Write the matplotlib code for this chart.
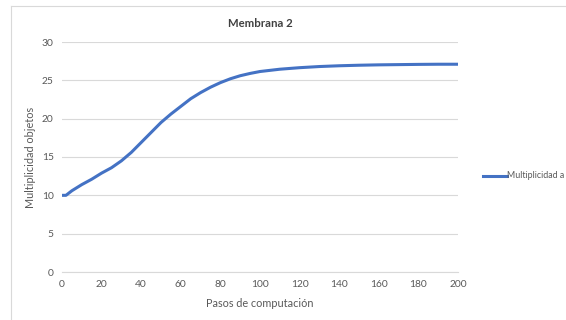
import matplotlib
matplotlib.use("Agg")
import matplotlib.pyplot as plt
from matplotlib.lines import Line2D

# ------------------------------
# Data
# ------------------------------
pasos = [0, 2, 5, 10, 15, 20, 25, 30, 35, 40, 45, 50, 55, 60, 65, 70, 75,
         80, 85, 90, 95, 100, 110, 120, 130, 140, 150, 160, 170, 180, 190, 200]
multiplicidad = [10.0, 10.0, 10.6, 11.4, 12.1, 12.9, 13.6, 14.5, 15.6, 16.9,
                 18.2, 19.5, 20.6, 21.6, 22.6, 23.4, 24.1, 24.7, 25.2, 25.6,
                 25.9, 26.15, 26.45, 26.65, 26.8, 26.9, 26.97, 27.02, 27.05,
                 27.08, 27.1, 27.1]
x_ticks = [0, 20, 40, 60, 80, 100, 120, 140, 160, 180, 200]
y_ticks = [0, 5, 10, 15, 20, 25, 30]

plt.rcParams['font.family'] = ['Lato', 'DejaVu Sans']

fig = plt.figure(figsize=(5.66, 3.2), dpi=100)
ax = fig.add_axes([62 / 566, 48 / 320, 396 / 566, 230 / 320])

ax.plot(pasos, multiplicidad, color='#4472C4', linewidth=2.2,
        solid_capstyle='round', solid_joinstyle='round')

ax.set_xlim(0, 200)
ax.set_ylim(0, 30)
ax.set_xticks(x_ticks)
ax.set_yticks(y_ticks)
ax.grid(axis='y', color='#D9D9D9', linewidth=0.8)
ax.set_axisbelow(True)
for side in ['top', 'right', 'left']:
    ax.spines[side].set_visible(False)
ax.spines['bottom'].set_color('#D9D9D9')
ax.tick_params(length=0, labelsize=7.4, labelcolor='#595959', pad=6)

ax.set_title("Membrana 2", fontsize=8.2, fontweight='bold', color='#404040', pad=11)
ax.set_xlabel("Pasos de computación", fontsize=7.8, color='#595959', labelpad=6)
ax.set_ylabel("Multiplicidad objetos", fontsize=7.8, color='#595959', labelpad=4)

# chart area border (left and top visible)
fig.add_artist(Line2D([11 / 566, 11 / 566], [0, 1 - 6 / 320],
                      transform=fig.transFigure, color='#D9D9D9', linewidth=0.8))
fig.add_artist(Line2D([11 / 566, 1], [1 - 6 / 320, 1 - 6 / 320],
                      transform=fig.transFigure, color='#D9D9D9', linewidth=0.8))

# legend, cut at the right edge like in the original
fig.add_artist(Line2D([483 / 566, 507 / 566], [1 - 176 / 320, 1 - 176 / 320],
                      transform=fig.transFigure, color='#4472C4', linewidth=2.2))
fig.text(507 / 566, 1 - 176 / 320, "Multiplicidad a", fontsize=6.4,
         color='#595959', va='center', ha='left')

fig.savefig("out.png", dpi=100)
